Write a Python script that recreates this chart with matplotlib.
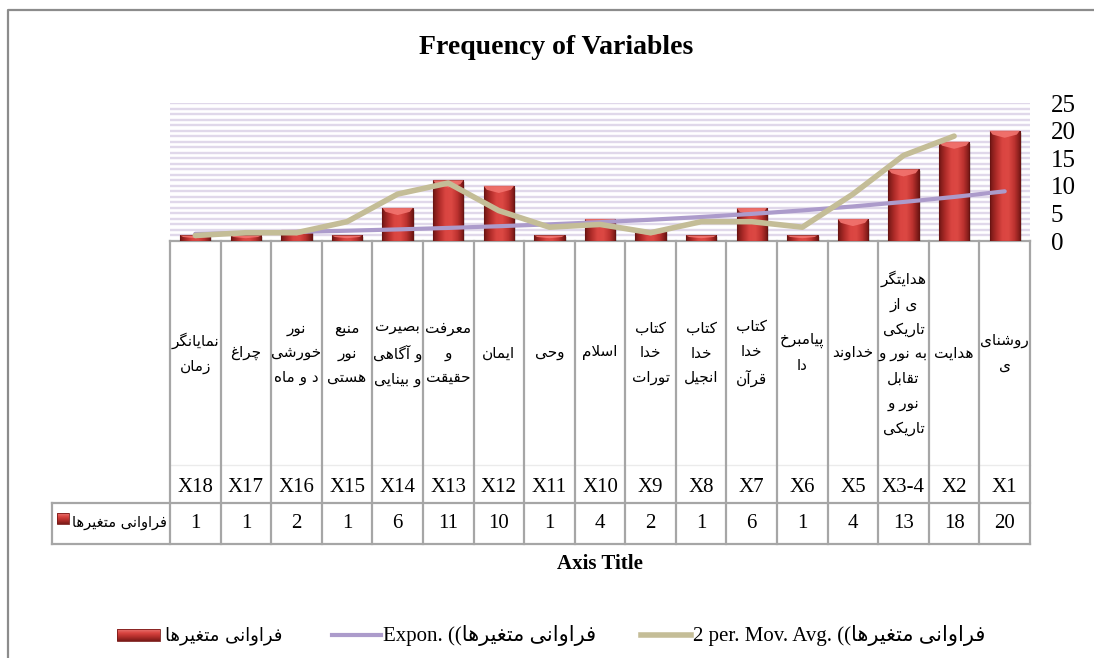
import matplotlib
matplotlib.use('Agg')
import matplotlib.pyplot as plt
import matplotlib.patches as patches
from matplotlib.colors import LinearSegmentedColormap
import numpy as np

## Categories in the order they are drawn, left to right (X1 sits on the right).
codes = ['X18', 'X17', 'X16', 'X15', 'X14', 'X13', 'X12', 'X11', 'X10',
         'X9', 'X8', 'X7', 'X6', 'X5', 'X3-4', 'X2', 'X1']
names = ['نمایانگر\nزمان', 'چراغ', 'نور\nخورشی\nد و ماه', 'منبع\nنور\nهستی',
         'بصیرت\nو آگاهی\nو بینایی', 'معرفت\nو\nحقیقت', 'ایمان', 'وحی', 'اسلام',
         'کتاب\nخدا\nتورات', 'کتاب\nخدا\nانجیل', 'کتاب\nخدا\nقرآن', 'پیامبرخ\nدا',
         'خداوند', 'هدایتگر\nی از\nتاریکی\nبه نور و\nتقابل\nنور و\nتاریکی',
         'هدایت', 'روشنای\nی']
frequency = [1, 1, 2, 1, 6, 11, 10, 1, 4, 2, 1, 6, 1, 4, 13, 18, 20]

## Trendlines.
expon_trend = [1.3, 1.46, 1.65, 1.86, 2.1, 2.37, 2.68, 3.02, 3.41, 3.85,
               4.35, 4.91, 5.54, 6.26, 7.07, 7.98, 9.0]
moving_avg = [1, 1.5, 1.5, 3.5, 8.5, 10.5, 5.5, 2.5, 3, 1.5, 3.5, 3.5, 2.5,
              8.5, 15.5, 19, np.nan]

series_name = 'فراوانی متغیرها'
y_ticks = [0, 5, 10, 15, 20, 25]

## Layout in pixels of the 1094x658 picture.
FIG_W, FIG_H = 1094, 658
PLOT_L, PLOT_R = 170, 1030
PLOT_T, PLOT_B = 103, 241
ROW_SPLIT = 503
TABLE_B = 544
KEY_L = 52

SERIF = ['Liberation Serif', 'DejaVu Sans']
ARABIC = ['DejaVu Sans']

## Presentation forms, first code point = isolated, then final, initial, medial.
DUAL = {'ب': 0xFE8F, 'ت': 0xFE95, 'ث': 0xFE99, 'ج': 0xFE9D, 'ح': 0xFEA1,
        'خ': 0xFEA5, 'س': 0xFEB1, 'ش': 0xFEB5, 'ص': 0xFEB9, 'ع': 0xFEC9,
        'غ': 0xFECD, 'ف': 0xFED1, 'ق': 0xFED5, 'ل': 0xFEDD, 'م': 0xFEE1,
        'ن': 0xFEE5, 'ه': 0xFEE9, 'پ': 0xFB56, 'چ': 0xFB7A, 'ک': 0xFB8E,
        'گ': 0xFB92, 'ی': 0xFBFC}
RIGHT = {'ا': 0xFE8D, 'آ': 0xFE81, 'د': 0xFEA9, 'ذ': 0xFEAB, 'ر': 0xFEAD,
         'ز': 0xFEAF, 'و': 0xFEED, 'ژ': 0xFB8A}


## matplotlib does no Arabic shaping or bidi, so join letters by hand and
## reverse each line into visual order.
def shape_line(line):
  out = []
  prev_joins = False
  i = 0
  while i < len(line):
    c = line[i]
    nxt = line[i + 1] if i + 1 < len(line) else ''
    if c == 'ل' and nxt in ('ا', 'آ'):
      base = 0xFEFB if nxt == 'ا' else 0xFEF5
      out.append(chr(base + (1 if prev_joins else 0)))
      prev_joins = False
      i += 2
      continue
    if c in DUAL:
      next_joins = nxt in DUAL or nxt in RIGHT
      if prev_joins:
        form = 3 if next_joins else 1
      else:
        form = 2 if next_joins else 0
      out.append(chr(DUAL[c] + form))
      prev_joins = next_joins
    elif c in RIGHT:
      out.append(chr(RIGHT[c] + (1 if prev_joins else 0)))
      prev_joins = False
    else:
      out.append(c)
      prev_joins = False
    i += 1
  return ''.join(reversed(out))


def shape(text):
  return '\n'.join(shape_line(l) for l in text.split('\n'))


bar_cmap = LinearSegmentedColormap.from_list(
    'bar', ['#721715', '#B02C29', '#DA4541', '#DC4843', '#BC322F', '#721715'])
key_cmap = LinearSegmentedColormap.from_list(
    'key', ['#E87572', '#D8433F', '#B02D2A', '#7A1A18'])


def draw_bar(ax, x, h, w):
  left = x - w / 2
  ## Soft shadow at the foot of the bar.
  ax.add_patch(patches.Rectangle((left + 0.04, -0.35), w, h, facecolor='#000000',
                                 edgecolor='none', alpha=0.12, zorder=2))
  rect = patches.Rectangle((left, 0), w, h, facecolor='none',
                           edgecolor='#6A1412', lw=0.8, zorder=4)
  ax.add_patch(rect)
  grad = np.linspace(0, 1, 64).reshape(1, -1)
  im = ax.imshow(grad, extent=(left, x + w / 2, 0, h), aspect='auto',
                 cmap=bar_cmap, interpolation='bicubic', zorder=3)
  im.set_clip_path(rect)
  ## Lighter bevel on top of each bar.
  cap = min(1.3, h * 0.5)
  ax.add_patch(patches.Polygon(
      [(left, h), (x + w / 2, h), (x + w / 2 - w * 0.1, h - cap * 0.55),
       (x, h - cap), (left + w * 0.1, h - cap * 0.55)],
      closed=True, facecolor='#F2746F', edgecolor='none', alpha=0.9, zorder=4))


def draw_key(over, x0, y0, w, h):
  grad = np.linspace(0, 1, 32).reshape(-1, 1)
  over.imshow(grad, extent=(x0, x0 + w, y0 + h, y0), aspect='auto',
              cmap=key_cmap, interpolation='bicubic', zorder=3)
  over.add_patch(patches.Rectangle((x0, y0), w, h, facecolor='none',
                                   edgecolor='#7A1A18', lw=0.6, zorder=4))


def main():
  fig = plt.figure(figsize=(FIG_W / 100, FIG_H / 100), dpi=100)

  ## Overlay axes in pixel units for the frame, table and legend.
  over = fig.add_axes([0, 0, 1, 1], zorder=0)
  over.set_xlim(0, FIG_W)
  over.set_ylim(FIG_H, 0)
  over.axis('off')

  ## Chart border (runs off the right and bottom of the picture).
  over.plot([8, 8, FIG_W + 5], [FIG_H + 5, 10, 10], color='#8C8C8C', lw=1.6)

  ## Main plotting axes.
  ax = fig.add_axes([PLOT_L / FIG_W, 1 - PLOT_B / FIG_H,
                     (PLOT_R - PLOT_L) / FIG_W, (PLOT_B - PLOT_T) / FIG_H],
                    zorder=1)
  ax.patch.set_visible(False)
  for s in ax.spines.values():
    s.set_visible(False)

  x = np.arange(len(codes))
  for v in range(1, 26):
    ax.axhline(v, color='#E0D8EA', lw=1.7, zorder=1)

  for xi, h in zip(x, frequency):
    draw_bar(ax, xi, h, 0.6)

  ax.plot(x, expon_trend, color='#AC9BCB', lw=3, zorder=5,
          solid_capstyle='round')
  ax.plot(x, moving_avg, color='#C4BD97', lw=4, zorder=6,
          solid_capstyle='round')

  ax.set_xlim(-0.5, len(codes) - 0.5)
  ax.set_ylim(0, 25)
  ax.set_xticks([])
  ax.yaxis.tick_right()
  ax.set_yticks(y_ticks)
  ax.tick_params(axis='y', length=0, pad=15, labelsize=18)
  for lab in ax.get_yticklabels():
    lab.set_family(SERIF)

  ## Data table under the plot.
  col_w = (PLOT_R - PLOT_L) / len(codes)
  grid_c = '#A6A6A6'
  over.plot([PLOT_L, PLOT_R], [PLOT_B, PLOT_B], color=grid_c, lw=1.6)
  over.plot([PLOT_L, PLOT_R], [465, 465], color='#EBEBEB', lw=1.0)
  over.plot([KEY_L, PLOT_R], [ROW_SPLIT, ROW_SPLIT], color=grid_c, lw=1.6)
  over.plot([KEY_L, PLOT_R], [TABLE_B, TABLE_B], color=grid_c, lw=1.6)
  over.plot([KEY_L, KEY_L], [ROW_SPLIT, TABLE_B], color=grid_c, lw=1.6)
  for k in range(len(codes) + 1):
    xk = PLOT_L + k * col_w
    over.plot([xk, xk], [PLOT_B, TABLE_B], color=grid_c, lw=1.6)

  for i in range(len(codes)):
    cx = PLOT_L + (i + 0.5) * col_w
    over.text(cx, 353, shape(names[i]), ha='center', va='center',
              multialignment='center', fontsize=11, family=ARABIC,
              linespacing=1.8)
    over.text(cx, 487, codes[i], ha='center', va='center', fontsize=15,
              family=SERIF)
    over.text(cx, 524, str(frequency[i]), ha='center', va='center',
              fontsize=15, family=SERIF)

  ## Legend key cell of the table.
  draw_key(over, 57, 513, 12, 11)
  over.text(72, 523, shape(series_name), ha='left', va='center', fontsize=10.5,
            family=ARABIC)

  ## Titles.
  over.text(556, 48, 'Frequency of Variables', ha='center', va='center',
            fontsize=20, fontweight='bold', family=SERIF)
  over.text(600, 564, 'Axis Title', ha='center', va='center', fontsize=15,
            fontweight='bold', family=SERIF)

  ## Legend along the bottom.
  draw_key(over, 117, 629, 43, 12)
  over.text(165, 636, shape(series_name), ha='left', va='center',
            fontsize=13, family=ARABIC)
  over.plot([332, 381], [635, 635], color='#AC9BCB', lw=3)
  over.text(383, 636, 'Expon. ((' + shape(series_name), ha='left',
            va='center', fontsize=15, family=SERIF)
  over.plot([641, 691], [635, 635], color='#C4BD97', lw=4)
  over.text(693, 636, '2 per. Mov. Avg. ((' + shape(series_name), ha='left',
            va='center', fontsize=15, family=SERIF)

  fig.savefig('out.png', dpi=100)


if __name__ == '__main__':
  main()
